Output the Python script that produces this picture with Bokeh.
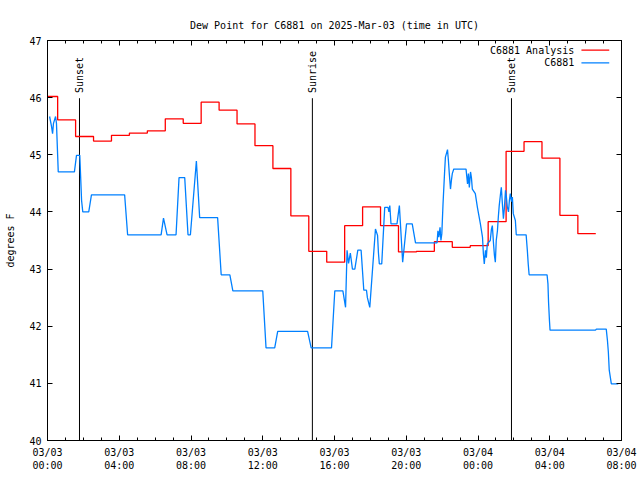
import math
import pandas as pd
from bokeh.plotting import figure
from bokeh.models import (Range1d, FixedTicker, DatetimeTickFormatter, LinearAxis,
                          DatetimeAxis, CustomJSTickFormatter)
from bokeh.core.properties import value
from bokeh.embed import file_html
from bokeh.resources import INLINE

FONT = "DejaVu Sans Mono"

# ---------------- data ----------------
obs_times = [
    "03/03 00:07", "03/03 00:13", "03/03 00:17", "03/03 00:20", "03/03 00:27", "03/03 00:30",
    "03/03 00:36", "03/03 01:30", "03/03 01:37", "03/03 01:48", "03/03 01:54", "03/03 01:58",
    "03/03 02:18", "03/03 02:27", "03/03 04:18", "03/03 04:28", "03/03 06:20", "03/03 06:28",
    "03/03 06:40", "03/03 07:10", "03/03 07:20", "03/03 07:39", "03/03 07:50", "03/03 07:58",
    "03/03 08:18", "03/03 08:29", "03/03 09:29", "03/03 09:41", "03/03 10:10", "03/03 10:20",
    "03/03 12:00", "03/03 12:11", "03/03 12:40", "03/03 12:50", "03/03 14:30", "03/03 14:42",
    "03/03 15:50", "03/03 16:01", "03/03 16:28", "03/03 16:37", "03/03 16:42", "03/03 16:47",
    "03/03 16:53", "03/03 17:00", "03/03 17:08", "03/03 17:18", "03/03 17:29", "03/03 17:38",
    "03/03 17:47", "03/03 17:50", "03/03 17:58", "03/03 18:17", "03/03 18:24", "03/03 18:27",
    "03/03 18:30", "03/03 18:38", "03/03 18:48", "03/03 18:59", "03/03 19:02", "03/03 19:05",
    "03/03 19:09", "03/03 19:29", "03/03 19:37", "03/03 19:48", "03/03 20:01", "03/03 20:20",
    "03/03 20:31", "03/03 21:43", "03/03 21:46", "03/03 21:49", "03/03 21:53", "03/03 21:56",
    "03/03 21:59", "03/03 22:03", "03/03 22:08", "03/03 22:11", "03/03 22:18", "03/03 22:21",
    "03/03 22:24", "03/03 22:28", "03/03 22:31", "03/03 22:34", "03/03 22:39", "03/03 23:20",
    "03/03 23:25", "03/03 23:28", "03/03 23:31", "03/03 23:35", "03/03 23:38", "03/03 23:41",
    "03/03 23:51", "03/03 23:58", "03/04 00:08", "03/04 00:15", "03/04 00:18", "03/04 00:21",
    "03/04 00:25", "03/04 00:28", "03/04 00:31", "03/04 00:41", "03/04 00:45", "03/04 00:48",
    "03/04 00:52", "03/04 00:55", "03/04 00:58", "03/04 01:01", "03/04 01:05", "03/04 01:08",
    "03/04 01:11", "03/04 01:15", "03/04 01:18", "03/04 01:22", "03/04 01:25", "03/04 01:28",
    "03/04 01:32", "03/04 01:35", "03/04 01:38", "03/04 01:42", "03/04 01:45", "03/04 01:48",
    "03/04 01:52", "03/04 01:55", "03/04 01:58", "03/04 02:05", "03/04 02:08", "03/04 02:41",
    "03/04 02:45", "03/04 02:48", "03/04 02:51", "03/04 03:51", "03/04 03:54", "03/04 03:56",
    "03/04 03:59", "03/04 04:01", "03/04 06:33", "03/04 06:36", "03/04 07:09", "03/04 07:13",
    "03/04 07:16", "03/04 07:19", "03/04 07:26", "03/04 07:49",
]
obs_dewpoint = [
    45.67, 45.51, 45.37, 45.55, 45.67, 45.55,
    44.70, 44.70, 44.99, 44.99, 44.20, 44.00,
    44.00, 44.30, 44.30, 43.60, 43.60, 43.89,
    43.60, 43.60, 44.60, 44.60, 43.60, 43.60,
    44.89, 43.90, 43.90, 42.90, 42.90, 42.62,
    42.62, 41.62, 41.62, 41.91, 41.91, 41.62,
    41.62, 42.62, 42.62, 42.33, 43.33, 43.10,
    43.28, 43.00, 43.00, 43.33, 43.33, 42.63,
    42.63, 42.50, 42.33, 43.70, 43.59, 43.28,
    43.09, 43.09, 44.08, 44.08, 44.00, 44.11,
    43.79, 43.79, 44.11, 43.12, 43.79, 43.79,
    43.46, 43.46, 43.67, 43.56, 43.73, 43.50,
    43.62, 44.14, 44.67, 44.96, 45.09, 44.90,
    44.67, 44.40, 44.55, 44.67, 44.75, 44.75,
    44.49, 44.67, 44.43, 44.70, 44.60, 44.40,
    44.32, 44.08, 43.79, 43.56, 43.27, 43.09,
    43.33, 43.20, 43.44, 43.50, 43.70, 43.76,
    43.44, 43.24, 43.12, 43.50, 43.67, 43.91,
    44.11, 44.30, 44.43, 44.11, 43.88, 44.05,
    44.38, 44.26, 44.09, 44.00, 44.20, 44.32,
    44.18, 44.26, 43.97, 43.85, 43.60, 43.60,
    43.33, 43.09, 42.90, 42.90, 42.74, 42.42,
    42.10, 41.93, 41.93, 41.95, 41.95, 41.75,
    41.55, 41.23, 40.99, 40.99,
]

analysis_times = [
    "03/03 00:00", "03/03 00:34", "03/03 01:34", "03/03 02:34", "03/03 03:34", "03/03 04:34",
    "03/03 05:34", "03/03 06:34", "03/03 07:34", "03/03 08:34", "03/03 09:34", "03/03 10:34",
    "03/03 11:34", "03/03 12:34", "03/03 13:34", "03/03 14:34", "03/03 15:34", "03/03 16:34",
    "03/03 17:34", "03/03 18:34", "03/03 19:34", "03/03 20:34", "03/03 21:34", "03/03 22:34",
    "03/03 23:34", "03/04 00:34", "03/04 01:34", "03/04 02:34", "03/04 03:34", "03/04 04:34",
    "03/04 05:34", "03/04 06:34",
]
analysis_dewpoint = [
    46.02, 45.61, 45.32, 45.24, 45.34, 45.38,
    45.42, 45.63, 45.55, 45.92, 45.78, 45.54,
    45.16, 44.76, 43.93, 43.31, 43.12, 43.76,
    44.09, 43.76, 43.30, 43.31, 43.48, 43.38,
    43.41, 43.83, 45.06, 45.23, 44.94, 43.94,
    43.62, 43.62,
]

event_times = ["03/03 01:47", "03/03 14:46", "03/04 01:52"]
event_labels = ["Sunset", "Sunrise", "Sunset"]

y_ticks = [40, 41, 42, 43, 44, 45, 46, 47]
x_start, x_end = "03/03 00:00", "03/04 08:00"


def ts(s):
    return pd.to_datetime("2025/" + s, format="%Y/%m/%d %H:%M")


def ms(t):
    return t.value // 10**6


obs_t = [ts(s) for s in obs_times]
ana_t = [ts(s) for s in analysis_times]
evt_t = [ts(s) for s in event_times]
t0, t1 = ts(x_start), ts(x_end)

# ---------------- figure ----------------
p = figure(width=640, height=480, x_axis_type="datetime",
           x_range=Range1d(t0, t1), y_range=Range1d(40, 47),
           output_backend="svg", toolbar_location=None,
           min_border_left=47, min_border_right=19, min_border_top=40, min_border_bottom=40,
           title="Dew Point for C6881 on 2025-Mar-03 (time in UTC)")
p.title.align = "center"
p.title.text_font = FONT
p.title.text_font_size = "10px"
p.title.text_font_style = "normal"
p.title.text_color = "black"
p.title.standoff = 19
p.background_fill_color = "white"
p.border_fill_color = "white"
p.outline_line_color = "black"
p.outline_line_width = 1
p.xgrid.visible = False
p.ygrid.visible = False

major_x = [ms(t) for t in pd.date_range(t0, t1, freq="4h")]
minor_x = [ms(t) for t in pd.date_range(t0, t1, freq="1h")]
fmt = "%m/%d\n%H:%M"
x_ticker = FixedTicker(ticks=major_x, minor_ticks=minor_x)
y_ticker = FixedTicker(ticks=y_ticks, minor_ticks=[])

xa = p.xaxis[0]
xa.ticker = x_ticker
xa.formatter = DatetimeTickFormatter(hours=fmt, days=fmt, minutes=fmt, hourmin=fmt, months=fmt)
ya = p.yaxis[0]
ya.ticker = y_ticker
ya.axis_label = "degrees F"
ya.axis_label_standoff = 10

blank = CustomJSTickFormatter(code="return ''")
top = DatetimeAxis(ticker=x_ticker, formatter=blank)
right = LinearAxis(ticker=y_ticker, formatter=blank)
p.add_layout(top, "above")
p.add_layout(right, "right")

for ax in [xa, ya, top, right]:
    ax.major_tick_in = 5
    ax.major_tick_out = 0
    ax.minor_tick_in = 3
    ax.minor_tick_out = 0
    ax.axis_line_color = "black"
    ax.major_tick_line_color = "black"
    ax.minor_tick_line_color = "black"
    ax.major_label_text_font = FONT
    ax.major_label_text_font_size = "10px"
    ax.major_label_text_color = "black"
    ax.major_label_standoff = 6
    ax.axis_label_text_font = FONT
    ax.axis_label_text_font_size = "10px"
    ax.axis_label_text_font_style = "normal"
    ax.axis_label_text_color = "black"
ya.minor_tick_line_color = None
right.minor_tick_line_color = None
top.major_label_standoff = 0
right.major_label_standoff = 0

# sunrise / sunset markers
p.segment(x0=evt_t, y0=[40] * 3, x1=evt_t, y1=[45.99] * 3, line_color="black", line_width=1)
p.text(x=evt_t, y=[46.08] * 3, text=event_labels, angle=math.pi / 2,
       text_align="left", text_baseline="middle",
       text_font=value(FONT), text_font_size="10px", text_color="black")

# series
RED = "#ff0000"
BLUE = "#0080ff"
p.step(ana_t, analysis_dewpoint, mode="after", line_color=RED, line_width=1.3)
p.line(obs_t, obs_dewpoint, line_color=BLUE, line_width=1.3)

# legend (gnuplot style: text then sample)
leg_names = ["C6881 Analysis", "C6881"]
leg_colors = [RED, BLUE]
leg_y = [46.83, 46.61]
p.text(x=[ts("03/04 05:22")] * 2, y=leg_y, text=leg_names, text_align="right",
       text_baseline="middle", text_font=value(FONT), text_font_size="10px", text_color="black")
p.segment(x0=[ts("03/04 05:46")] * 2, y0=leg_y, x1=[ts("03/04 07:19")] * 2, y1=leg_y,
          line_color=leg_colors, line_width=1.3)

open("out.html", "w").write(file_html(p, INLINE))
